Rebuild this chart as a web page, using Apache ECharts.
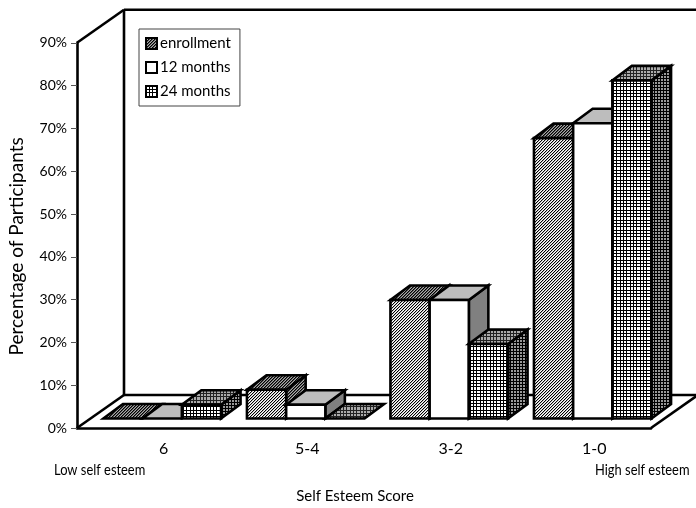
<!DOCTYPE html>
<html><head><meta charset="utf-8">
<style>html,body{margin:0;padding:0;background:#fff}#c{width:696px;height:508px}</style>
<script src="https://cdn.jsdelivr.net/npm/echarts@6/dist/echarts.min.js"></script>
</head><body><div id="c"></div>
<script>
const categories = ['6', '5-4', '3-2', '1-0'];
const enrollment = [0, 6.7, 27.7, 65.5];
const months12 = [0, 3.2, 27.7, 69];
const months24 = [3.2, 0, 17.4, 79];
const seriesNames = ['enrollment', '12 months', '24 months'];

function pat(size, draw) {
  const c = document.createElement('canvas');
  c.width = c.height = size;
  const x = c.getContext('2d');
  x.fillStyle = '#fff'; x.fillRect(0, 0, size, size);
  draw(x);
  return { image: c, repeat: 'repeat' };
}
function diag(x, n, map) {
  for (let i = 0; i < n; i++) for (let j = 0; j < n; j++) {
    const col = map[(i + j) % n];
    if (col) { x.fillStyle = col; x.fillRect(i, j, 1, 1); }
  }
}
function grid(x, n, lines, col) {
  x.fillStyle = col;
  for (let i = 0; i < n; i++) for (let j = 0; j < n; j++)
    if (lines.includes(i) || lines.includes(j)) x.fillRect(i, j, 1, 1);
}
const hatchFront = pat(3, x => diag(x, 3, ['#000', '#bbb', '#fff']));
const hatchTop = pat(3, x => diag(x, 3, ['#000', '#555', '#aaa']));
const gridFront = pat(10, x => grid(x, 10, [0, 3, 6], '#000'));
const gridTop = pat(10, x => { x.fillStyle = '#aaa'; x.fillRect(0, 0, 10, 10); grid(x, 10, [0, 3, 6], '#222'); });
const gridSide = pat(3, x => { x.fillStyle = '#999'; x.fillRect(0, 0, 3, 3); grid(x, 3, [0], '#000'); });

const faces = [
  { front: hatchFront, top: hatchTop, side: hatchTop },
  { front: '#ffffff', top: '#bdbdbd', side: '#808080' },
  { front: gridFront, top: gridTop, side: gridSide }
];
const legendFill = [hatchTop, '#ffffff', gridFront];

const barShift = [13.5, -9.5];   // gap between front of floor and front of bars
const barDepth = [19.5, -14.5];
const wallDepth = [47, -33];
const barShare = 39.2 / 143.5;

function poly(points, fill) {
  return { type: 'polygon', shape: { points }, style: { fill, stroke: '#000', lineWidth: 2.6, lineJoin: 'miter' } };
}
function barSeries(name, values, idx) {
  return {
    type: 'custom', name, coordinateSystem: 'cartesian2d', clip: false, z: 3 + idx,
    itemStyle: { color: legendFill[idx], borderColor: '#000', borderWidth: 3 },
    encode: { x: 0, y: 1 },
    data: values.map((v, i) => [categories[i], v]),
    renderItem(params, api) {
      const cat = api.value(0), val = api.value(1);
      const base = api.coord([cat, 0]), top = api.coord([cat, val]);
      const w = api.size([1, 0])[0] * barShare;
      const x0 = base[0] + (idx - 1.5) * w + barShift[0], x1 = x0 + w;
      const yb = base[1] + barShift[1], yt = top[1] + barShift[1];
      const [dx, dy] = barDepth;
      const f = faces[idx];
      const children = [];
      if (val > 0) children.push(poly([[x1, yb], [x1 + dx, yb + dy], [x1 + dx, yt + dy], [x1, yt]], f.side));
      children.push(poly([[x0, yt], [x1, yt], [x1 + dx, yt + dy], [x0 + dx, yt + dy]], f.top));
      if (val > 0) children.push(poly([[x0, yb], [x1, yb], [x1, yt], [x0, yt]], f.front));
      return { type: 'group', children };
    }
  };
}
function seg(a, b) {
  return { type: 'line', shape: { x1: a[0], y1: a[1], x2: b[0], y2: b[1] }, style: { stroke: '#000', lineWidth: 2.6 } };
}
const frameSeries = {
  type: 'custom', name: 'frame', coordinateSystem: 'cartesian2d', clip: false, z: 1, silent: true,
  encode: { x: 0, y: 1 }, data: [[categories[0], 0]],
  renderItem(params) {
    const g = params.coordSys, [dx, dy] = wallDepth;
    const L = g.x, R = g.x + g.width, T = g.y, B = g.y + g.height;
    return { type: 'group', children: [
      seg([L, T], [L + dx, T + dy]),
      seg([L, B], [L + dx, B + dy]),
      seg([L + dx, T + dy], [L + dx, B + dy]),
      seg([L + dx, T + dy], [696, T + dy]),
      seg([L + dx, B + dy], [R + dx, B + dy]),
      seg([R, B], [R + dx, B + dy])
    ] };
  }
};

const chart = echarts.init(document.getElementById('c'), null, { renderer: 'canvas' });
const font = 'Lato';
chart.setOption({
  animation: false,
  backgroundColor: '#fff',
  grid: { left: 77, top: 42.8, width: 574, height: 385.2, outerBoundsMode: 'none' },
  xAxis: {
    type: 'category', data: categories,
    axisLine: { lineStyle: { color: '#000', width: 2.6 } }, axisTick: { show: false },
    axisLabel: { color: '#000', fontFamily: font, fontSize: 16, margin: 13, padding: [0, 0, 0, 30] },
    name: 'Self Esteem Score', nameLocation: 'middle', nameGap: 61,
    nameTextStyle: { color: '#000', fontFamily: font, fontSize: 15, padding: [0, 18, 0, 0] }
  },
  yAxis: {
    type: 'value', min: 0, max: 90, interval: 10,
    axisLine: { show: true, lineStyle: { color: '#000', width: 2.6 } },
    axisTick: { show: true, length: 6, lineStyle: { color: '#555', width: 1 } },
    axisLabel: { color: '#000', fontFamily: font, fontSize: 14, margin: 10, formatter: '{value}%' },
    splitLine: { show: false },
    name: 'Percentage of Participants', nameLocation: 'middle', nameGap: 51, nameRotate: 90,
    nameTextStyle: { color: '#000', fontFamily: font, fontSize: 19, padding: [0, 22, 0, 0] }
  },
  legend: {
    data: seriesNames, orient: 'vertical', left: 139, top: 29, itemWidth: 11, itemHeight: 11, itemGap: 9,
    padding: [7, 9, 7, 6],
    backgroundColor: '#fff', borderColor: '#444', borderWidth: 1, selectedMode: false,
    icon: 'rect', inactiveColor: '#000',
    textStyle: { color: '#000', fontFamily: font, fontSize: 15, padding: [0, 0, 0, -2] }
  },
  graphic: [
    { type: 'text', x: 54, y: 463, scaleX: 0.86, style: { text: 'Low self esteem', fill: '#000', font: '15px ' + font } },
    { type: 'text', x: 595, y: 463, scaleX: 0.86, style: { text: 'High self esteem', fill: '#000', font: '15px ' + font } }
  ],
  series: [frameSeries, barSeries(seriesNames[0], enrollment, 0), barSeries(seriesNames[1], months12, 1), barSeries(seriesNames[2], months24, 2)]
});
</script></body></html>
